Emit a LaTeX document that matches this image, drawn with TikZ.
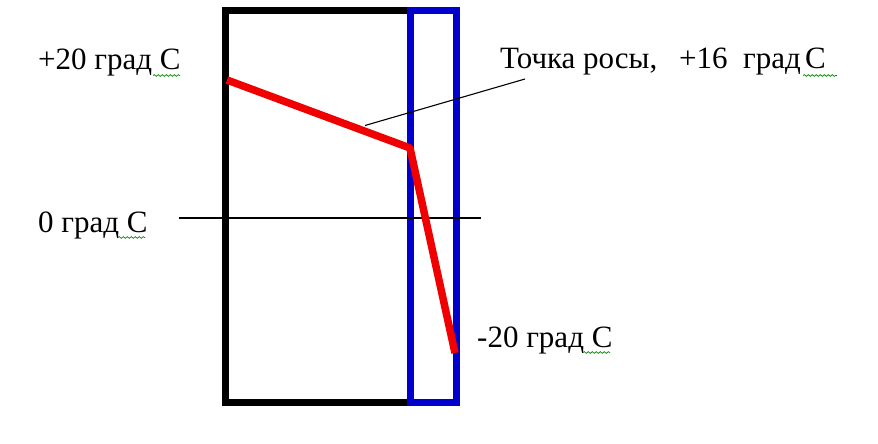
\documentclass[tikz,border=0pt]{standalone}
\usepackage{fontspec}
\setmainfont{Liberation Serif}
\usetikzlibrary{decorations.pathmorphing}
\definecolor{wallblue}{RGB}{0,0,205}
\definecolor{profred}{RGB}{240,0,0}
\begin{document}
\begin{tikzpicture}[x=1pt,y=-1pt,
  lbl/.style={anchor=base west,inner sep=0pt,font=\fontsize{31}{34}\selectfont},
  wall/.style={line width=7pt},
  thin/.style={line width=1.1pt},
  spell/.style={green!55!black,line width=0.7pt,decorate,decoration={snake,amplitude=0.9pt,segment length=4pt}}]
\fill[white] (0,0) rectangle (878,444);
\useasboundingbox (0,0) rectangle (878,444);
% walls
\draw[wall,black] (225.5,10.5) rectangle (410.5,402);
\draw[wall,wallblue] (410.5,10.5) rectangle (456.5,402);
% guide lines
\coordinate (h1) at (179,218);
\coordinate (h2) at (481,218);
\draw[thin] (h1) -- (h2);
\coordinate (p0) at (227,80);
\coordinate (p1) at (410,148);
\coordinate (p2) at (455,353);
\coordinate (lead) at (365,125.5);
\coordinate (leadend) at (525,79);
\draw[thin] (lead) -- (leadend);
% temperature profile
\draw[profred,line width=7.5pt,line join=round] (p0) -- (p1) -- (p2);
% labels
\node[lbl] (t20) at (38,70) {+20 град С};
\node[lbl] (dew) at (500,68) {Точка росы,};
\node[lbl] (t16) at (679,68) {+16};
\node[lbl] (g16) at (743,68) {град};
\node[lbl] (c16) at (805,68) {С};
\node[lbl] (t0) at (38,232) {0 град С};
\node[lbl] (tm20) at (477,347) {-20 град С};
% spell-check marks
\draw[spell] (153,75.5) -- (180,75.5);
\draw[spell] (803,75.5) -- (837,75.5);
\draw[spell] (118,237.5) -- (145,237.5);
\draw[spell] (583,352.5) -- (610,352.5);
\end{tikzpicture}
\end{document}
